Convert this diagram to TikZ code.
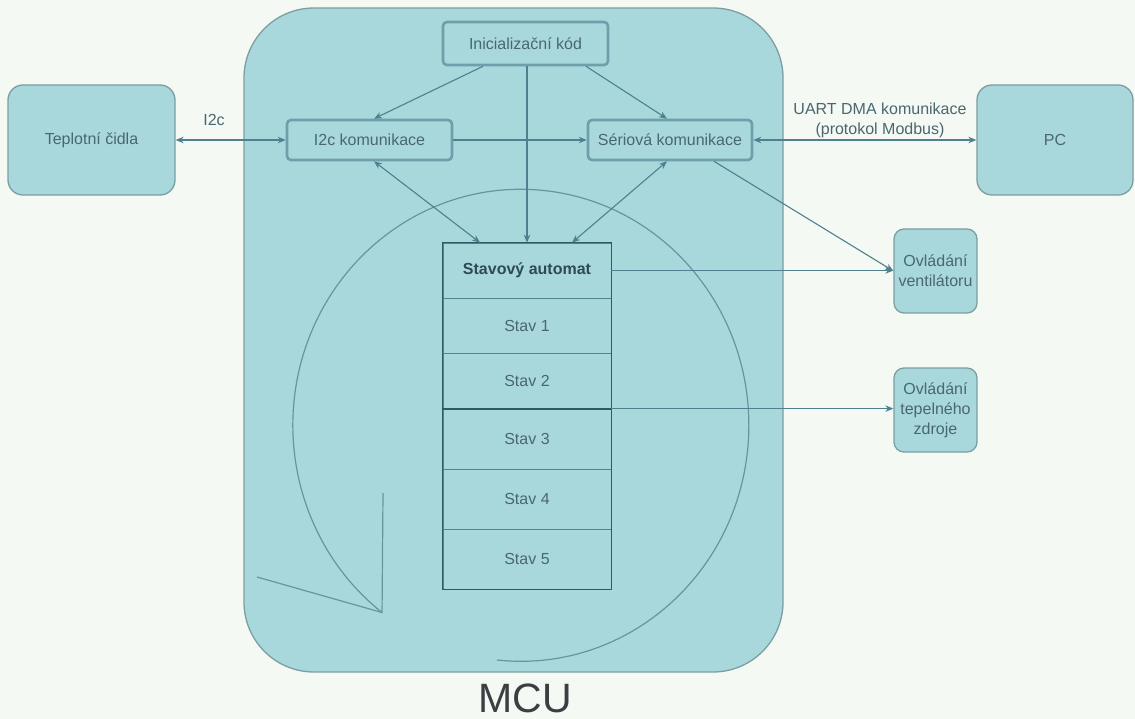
\documentclass[tikz,border=0pt]{standalone}
\usepackage{fontspec}
\setmainfont{Liberation Sans}
\usetikzlibrary{arrows.meta,calc}
\definecolor{bg}{HTML}{F5F9F3}
\definecolor{boxfill}{HTML}{A9D8DC}
\definecolor{outerborder}{HTML}{7A9EA3}
\definecolor{innerborder}{HTML}{6E9FAA}
\definecolor{lin}{HTML}{4E808D}
\definecolor{tabborder}{HTML}{2F5A63}
\definecolor{tabline}{HTML}{4F8590}
\definecolor{txt}{HTML}{4A6770}
\definecolor{txtdark}{HTML}{2E4A52}
\definecolor{mcutext}{HTML}{3A3F44}
\begin{document}
\begin{tikzpicture}[x=1pt,y=-1pt,
  >={Stealth[length=8pt,width=6.5pt]},
  basefont/.style={font=\fontsize{16}{20}\selectfont, text=txt},
  outerbox/.style={basefont, draw=outerborder, fill=boxfill, line width=1.3pt, rounded corners=15pt, align=center, inner sep=0pt},
  smallbox/.style={outerbox, rounded corners=10pt, minimum width=83pt, minimum height=84pt},
  innerbox/.style={basefont, draw=innerborder, fill=boxfill, line width=2.6pt, rounded corners=4pt, inner sep=0pt},
  cell/.style={basefont, draw=tabline, line width=0.8pt, minimum width=168pt, inner sep=0pt},
  arr/.style={draw=lin, line width=1.1pt},
  circ/.style={draw=lin!85!white, line width=1.2pt},
  lbl/.style={basefont, align=center, inner sep=0pt}
]
\path[fill=bg] (0,0) rectangle (1135,719);
\useasboundingbox (0,0) rectangle (1135,719);

% MCU container
\node[draw=outerborder, fill=boxfill, line width=1.3pt, rounded corners=70pt,
      minimum width=539pt, minimum height=664pt] (mcu) at (513.5,340) {};
\node[font=\fontsize{41}{45}\selectfont, text=mcutext, inner sep=0pt] (mculabel) at (525,698) {MCU};

% circular arrow
\draw[circ] (497,660) arc[start angle=-96, end angle=232.5, x radius=228pt, y radius=236pt] coordinate (tip);
\coordinate (armA) at (257,577);
\coordinate (armB) at (383,493);
\draw[circ] (armA) -- (tip) -- (armB);

% outer boxes
\node[outerbox, minimum width=167pt, minimum height=110pt] (tep) at (91.5,140) {Teplotní čidla};
\node[outerbox, minimum width=156pt, minimum height=110pt] (pc) at (1055,140) {PC};
\node[smallbox] (vent) at (935.5,271) {Ovládání\\ventilátoru};
\node[smallbox] (tepz) at (935.5,410) {Ovládání\\tepelného\\zdroje};

% inner boxes
\node[innerbox, minimum width=165pt, minimum height=43pt] (init) at (525.5,43.5) {Inicializační kód};
\node[innerbox, minimum width=165pt, minimum height=40pt] (i2c) at (369.5,140) {I2c komunikace};
\node[innerbox, minimum width=164pt, minimum height=40pt] (ser) at (670,140) {Sériová komunikace};

% state table
\node[cell, minimum height=55pt, text=txtdark] (sa) at (527,270.5) {\textbf{Stavový automat}};
\node[cell, minimum height=55pt] (s1) at (527,325.5) {Stav 1};
\node[cell, minimum height=56pt] (s2) at (527,381) {Stav 2};
\node[cell, minimum height=60pt] (s3) at (527,439) {Stav 3};
\node[cell, minimum height=60pt] (s4) at (527,499) {Stav 4};
\node[cell, minimum height=60pt] (s5) at (527,559) {Stav 5};
\draw[draw=tabborder, line width=1.4pt] (sa.north west) rectangle (s5.south east);
\draw[draw=tabborder, line width=1.8pt] (s3.north west) -- (s3.north east);

% labels
\node[lbl] (li2c) at (214,120) {I2c};
\node[lbl] (luart) at (880,120) {UART DMA komunikace\\(protokol Modbus)};

% connectors
\draw[arr,<->] (tep.east) -- (i2c.west);
\draw[arr,->] (i2c.east) -- (ser.west);
\draw[arr,<->] (ser.east) -- (pc.west);
\draw[arr,->] ([xshift=-42.5pt]init.south) -- ([xshift=4.5pt]i2c.north);
\draw[arr,->] ([xshift=60.5pt]init.south) -- ([xshift=-3pt]ser.north);
\draw[arr,->] ([xshift=1.5pt]init.south) -- (sa.north);
\draw[arr,<->] ([xshift=4.5pt]i2c.south) -- ([xshift=-47pt]sa.north);
\draw[arr,<->] ([xshift=-3pt]ser.south) -- ([xshift=45pt]sa.north);
\draw[arr,->] ([xshift=44pt]ser.south) -- (vent.west);
\draw[arr,->] (sa.east) -- (sa.east -| vent.west);
\draw[arr,->] (s3.north east) -- (s3.north east -| tepz.west);
\end{tikzpicture}
\end{document}
